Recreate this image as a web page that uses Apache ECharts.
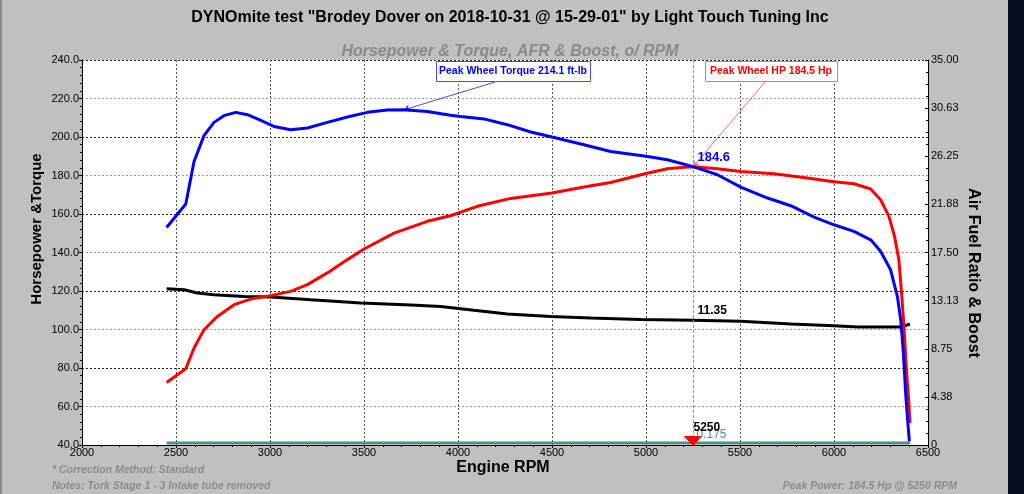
<!DOCTYPE html>
<html><head><meta charset="utf-8">
<script src="https://cdn.jsdelivr.net/npm/echarts@6/dist/echarts.min.js"></script>
<style>html,body{margin:0;padding:0;background:#c0c0c0;overflow:hidden}#c{width:1024px;height:494px;}</style>
</head><body><div id="c"></div>
<script>
// ---- text ----
const titleText = 'DYNOmite test "Brodey Dover on 2018-10-31 @ 15-29-01" by Light Touch Tuning Inc';
const subtitleText = 'Horsepower & Torque, AFR & Boost, o/ RPM';
const leftAxisName = 'Horsepower &Torque';
const rightAxisName = 'Air Fuel Ratio & Boost';
const xAxisName = 'Engine RPM';
const footNote1 = '* Correction Method: Standard';
const footNote2 = 'Notes: Tork Stage 1 - 3 Intake tube removed';
const footPeak = 'Peak Power: 184.5 Hp @ 5250 RPM';
const torqueBoxText = 'Peak Wheel Torque 214.1 ft-lb';
const hpBoxText = 'Peak Wheel HP 184.5 Hp';

// ---- data ----
const torqueRpm = [2450,2552,2596,2649,2702,2755,2818,2880,2951,3021,3110,3199,3305,3412,3518,3624,3712,3837,3960,4014,4138,4262,4387,4500,4670,4812,5000,5114,5250,5380,5504,5646,5770,5894,6000,6106,6195,6248,6301,6337,6355,6369,6381,6393,6401];
const torqueVal = [153.0,165.2,187.3,200.7,207.6,211.1,212.8,211.6,208.6,205.5,203.8,204.7,207.6,210.4,212.8,214.0,214.1,213.3,211.3,210.7,209.4,206.4,202.6,200.0,196.0,192.5,190.0,188.2,184.6,180.4,174.0,168.3,164.3,158.4,154.4,151.0,146.6,140.6,131.0,117.2,105.1,87.8,67.0,51.4,41.9];

const hpRpm = [2450,2552,2596,2649,2720,2809,2897,3004,3110,3199,3305,3412,3500,3660,3837,3960,4103,4280,4500,4670,4812,5000,5114,5202,5250,5380,5504,5681,5858,6000,6106,6195,6248,6292,6322,6345,6358,6372,6384,6398,6404];
const hpVal = [72.5,79.6,90.4,99.9,106.8,112.9,115.8,117.6,119.8,123.3,129.4,136.3,141.8,150.1,156.2,159.1,164.0,168.1,170.9,174.0,176.4,181.0,183.5,184.3,184.5,183.5,182.1,180.9,178.7,176.8,175.7,173.0,167.4,158.8,148.4,136.3,120.7,101.6,80.8,61.8,51.4];

const afrRpm = [2450,2543,2614,2702,2862,3004,3217,3483,3749,3908,4085,4263,4493,4706,4972,5250,5504,5770,6000,6128,6358,6404];
const afrVal = [14.21,14.12,13.82,13.66,13.51,13.45,13.2,12.9,12.73,12.6,12.24,11.9,11.69,11.55,11.42,11.35,11.24,11.0,10.85,10.73,10.73,11.0];

const boostRpm = [2450,3500,4500,5250,6000,6404];
const boostVal = [0.175,0.175,0.175,0.175,0.175,0.175];

const xTicks = {min:2000, max:6500, step:500};
const leftTicks = {min:40, max:240, step:20};
const rightTicks = {min:0, max:35, step:4.375};

const peakRpm = 5250, peakHp = 184.5, tqAtPeak = 184.6, afrAtPeak = 11.35, boostAtPeak = 0.175;
const peakTqRpm = 3712, peakTq = 214.1;

const zip = (a,b) => a.map((x,i)=>[x,b[i]]);
const FONT = 'Liberation Sans, Arial, sans-serif';

const chart = echarts.init(document.getElementById('c'), null, {renderer:'canvas'});
const option = {
  animation:false,
  backgroundColor:'#c0c0c0',
  textStyle:{fontFamily:FONT},
  title:[
    {text:titleText, left:505, top:5, textAlign:'center',
     textStyle:{fontFamily:FONT,fontSize:16,fontWeight:'bold',color:'#000'}},
    {text:subtitleText, left:505, top:39, textAlign:'center',
     textStyle:{fontFamily:FONT,fontSize:16,fontWeight:'bold',fontStyle:'italic',color:'#8a8a8a'}}
  ],
  grid:{left:82, right:96, top:60, bottom:49, show:true, backgroundColor:'#ffffff', borderWidth:0, outerBoundsMode:'none', containLabel:false},
  xAxis:{type:'value', min:xTicks.min, max:xTicks.max, interval:xTicks.step,
    axisLine:{show:true, onZero:false, lineStyle:{color:'#000',width:1}},
    axisTick:{show:true, inside:false, length:3, lineStyle:{color:'#000'}},
    minorTick:{show:true, splitNumber:5, length:2, lineStyle:{color:'#000'}},
    axisLabel:{fontSize:11, color:'#000', margin:2, fontFamily:FONT, formatter:v=>String(v)},
    splitLine:{show:true, lineStyle:{color:'#555', type:[2,2], width:1}}
  },
  yAxis:[
    {type:'value', min:leftTicks.min, max:leftTicks.max, interval:leftTicks.step, position:'left',
     axisLine:{show:true, onZero:false, lineStyle:{color:'#000'}},
     axisTick:{show:true, length:3, lineStyle:{color:'#000'}},
     minorTick:{show:true, splitNumber:5, length:2, lineStyle:{color:'#000'}},
     axisLabel:{fontSize:11, color:'#000', margin:3, fontFamily:FONT, formatter:v=>v.toFixed(1)},
     splitLine:{show:true, lineStyle:{color:['#222','#999'], type:[2,2], width:1}}
    },
    {type:'value', min:rightTicks.min, max:rightTicks.max, interval:rightTicks.step, position:'right',
     axisLine:{show:true, onZero:false, lineStyle:{color:'#000'}},
     axisTick:{show:true, inside:true, length:3, lineStyle:{color:'#000'}},
     minorTick:{show:true, splitNumber:4, length:2, lineStyle:{color:'#000'}},
     axisLabel:{fontSize:11, color:'#000', margin:3, fontFamily:FONT, formatter:v=> v===0 ? '0' : v.toFixed(2)},
     splitLine:{show:false}
    }
  ],
  series:[
    {name:'Boost', type:'line', yAxisIndex:1, data:zip(boostRpm,boostVal), showSymbol:false,
     lineStyle:{color:'#4f8e8e', width:3}, z:2,
     markPoint:{silent:true, symbol:'circle', symbolSize:1, itemStyle:{color:'rgba(0,0,0,0)'},
       data:[{coord:[peakRpm,boostAtPeak], value:boostAtPeak,
         label:{show:true, position:'right', distance:3, offset:[0,-8], formatter:String(boostAtPeak),
           fontSize:12, color:'#4f8e8e', fontFamily:FONT}}]}
    },
    {name:'AFR', type:'line', yAxisIndex:1, data:zip(afrRpm,afrVal), showSymbol:false,
     lineStyle:{color:'#000', width:3}, z:3,
     markPoint:{silent:true, symbol:'circle', symbolSize:1, itemStyle:{color:'rgba(0,0,0,0)'},
       data:[{coord:[peakRpm,afrAtPeak], value:afrAtPeak,
         label:{show:true, position:'right', distance:4, offset:[0,-9], formatter:afrAtPeak.toFixed(2),
           fontSize:12, fontWeight:'bold', color:'#000', fontFamily:FONT}}]}
    },
    {name:'HP', type:'line', yAxisIndex:0, data:zip(hpRpm,hpVal), showSymbol:false,
     lineStyle:{color:'#ff0000', width:3}, z:4,
     markLine:{silent:true, animation:false,
       data:[
         [{xAxis:peakRpm, yAxis:leftTicks.max, symbol:'none', lineStyle:{color:'#ff6a6a', width:1, type:[3,2]}},
          {xAxis:peakRpm, yAxis:leftTicks.min, symbol:'none'}],
         [{x:765, y:82, symbol:'none', lineStyle:{color:'#ff6a6a', width:1, type:'solid'}},
          {coord:[peakRpm,peakHp], symbol:'arrow', symbolSize:6}]
       ],
       label:{show:false}},
     markPoint:{silent:true,
       data:[
         {coord:[peakRpm,leftTicks.min], symbol:'triangle', symbolRotate:180, symbolSize:[19,10], symbolOffset:[0,-4],
          itemStyle:{color:'#ff0000'}, label:{show:false}},
         {coord:[peakRpm,leftTicks.min], symbol:'circle', symbolSize:1, itemStyle:{color:'rgba(0,0,0,0)'},
          label:{show:true, position:'right', distance:0, offset:[0,-17], formatter:String(peakRpm),
            fontSize:12, fontWeight:'bold', color:'#000', fontFamily:FONT}}
       ]}
    },
    {name:'Torque', type:'line', yAxisIndex:0, data:zip(torqueRpm,torqueVal), showSymbol:false,
     lineStyle:{color:'#0000ff', width:3}, z:5,
     markLine:{silent:true, animation:false,
       data:[
         [{x:495, y:82, symbol:'none', lineStyle:{color:'#4a4aff', width:1, type:'solid'}},
          {coord:[peakTqRpm,peakTq], symbol:'arrow', symbolSize:6}]
       ],
       label:{show:false}},
     markPoint:{silent:true, symbol:'circle', symbolSize:1, itemStyle:{color:'rgba(0,0,0,0)'},
       data:[{coord:[peakRpm,tqAtPeak], value:tqAtPeak,
         label:{show:true, position:'right', distance:4, offset:[0,-9], formatter:tqAtPeak.toFixed(1),
           fontSize:13, fontWeight:'bold', color:'#0000ff', fontFamily:FONT}}]}
    }
  ],
  graphic:[
    {type:'rect', shape:{x:1008,y:0,width:16,height:494}, style:{fill:'#070b24'}, silent:true, z:0},
    {type:'rect', shape:{x:0,y:0,width:2,height:494}, style:{fill:'#8a8a8a'}, silent:true},
    {type:'text', x:37, y:229, rotation:Math.PI/2,
     style:{text:leftAxisName, fontSize:15, fontWeight:'bold', fontFamily:FONT, fill:'#000', align:'center', verticalAlign:'middle'}},
    {type:'text', x:973, y:273, rotation:-Math.PI/2,
     style:{text:rightAxisName, fontSize:16, fontWeight:'bold', fontFamily:FONT, fill:'#000', align:'center', verticalAlign:'middle'}},
    {type:'text', x:503, y:468,
     style:{text:xAxisName, fontSize:16, fontWeight:'bold', fontFamily:FONT, fill:'#000', align:'center', verticalAlign:'middle'}},
    {type:'text', x:52, y:470,
     style:{text:footNote1, fontSize:10.5, fontWeight:'bold', fontStyle:'italic', fontFamily:FONT, fill:'#8c8c8c', align:'left', verticalAlign:'middle'}},
    {type:'text', x:52, y:486,
     style:{text:footNote2, fontSize:10.5, fontWeight:'bold', fontStyle:'italic', fontFamily:FONT, fill:'#8c8c8c', align:'left', verticalAlign:'middle'}},
    {type:'text', x:957, y:486,
     style:{text:footPeak, fontSize:10.5, fontWeight:'bold', fontStyle:'italic', fontFamily:FONT, fill:'#8c8c8c', align:'right', verticalAlign:'middle'}},
    {type:'rect', shape:{x:436.5,y:61.5,width:154,height:20}, style:{fill:'#fff', stroke:'#4a4aff', lineWidth:1}, z:20},
    {type:'text', x:513, y:71.5, z:21,
     style:{text:torqueBoxText, fontSize:10.5, fontWeight:'bold', fontFamily:FONT, fill:'#0000ff', align:'center', verticalAlign:'middle'}},
    {type:'rect', shape:{x:705.5,y:61.5,width:132,height:20}, style:{fill:'#fff', stroke:'#ff6a6a', lineWidth:1}, z:20},
    {type:'text', x:771, y:71.5, z:21,
     style:{text:hpBoxText, fontSize:10.5, fontWeight:'bold', fontFamily:FONT, fill:'#ff0000', align:'center', verticalAlign:'middle'}}
  ]
};
chart.setOption(option);
</script>
</body></html>
